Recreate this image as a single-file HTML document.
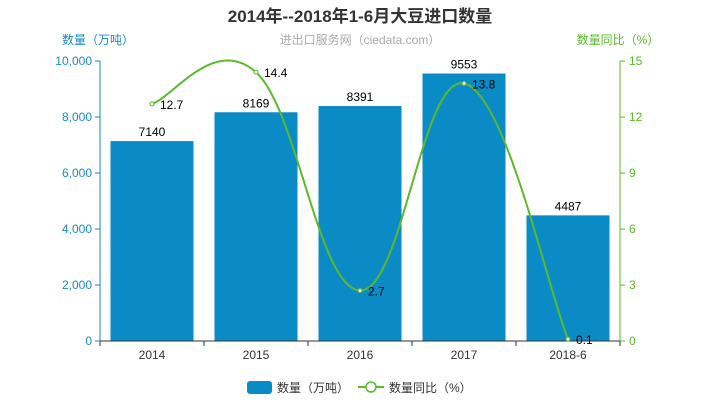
<!DOCTYPE html>
<html><head><meta charset="utf-8"><style>
body{margin:0;background:#fff;width:720px;height:400px;overflow:hidden;font-family:"Liberation Sans","Noto Sans CJK SC",sans-serif}
</style></head><body>
<svg width="720" height="400" xmlns="http://www.w3.org/2000/svg" id="chart" font-family="Liberation Sans, Noto Sans CJK SC, sans-serif">
<text x="360" y="22" text-anchor="middle" font-size="17" font-weight="bold" fill="#333">2014年--2018年1-6月大豆进口数量</text>
<text x="360" y="44" text-anchor="middle" font-size="12" fill="#aaa">进出口服务网（ciedata.com）</text>
<text x="98" y="44" text-anchor="middle" font-size="12" fill="#1a8bc6">数量（万吨）</text>
<text x="618" y="44" text-anchor="middle" font-size="12" fill="#5cb82c">数量同比（%）</text>
<g id="plot"></g>
<g>
<rect x="247" y="381" width="25" height="13" rx="3" fill="#0a8bc6"/>
<text x="277" y="392" font-size="12" fill="#333">数量（万吨）</text>
<line x1="358" y1="387" x2="384" y2="387" stroke="#5cb82c" stroke-width="2"/>
<circle cx="371" cy="387" r="5" fill="#fff" stroke="#5cb82c" stroke-width="1.5"/>
<text x="389" y="392" font-size="12" fill="#333">数量同比（%）</text>
</g>
</svg>
<script>
const categories=["2014","2015","2016","2017","2018-6"];
const volumes=[7140,8169,8391,9553,4487];
const yoy=[12.7,14.4,2.7,13.8,0.1];
const leftTicks=[0,2000,4000,6000,8000,10000];
const rightTicks=[0,3,6,9,12,15];
const NS="http://www.w3.org/2000/svg";
const g=document.getElementById('plot');
const X0=100,X1=620,Y0=341,Y1=61,band=(X1-X0)/categories.length;
const yL=v=>Y0-v/10000*(Y0-Y1), yR=v=>Y0-v/15*(Y0-Y1), xc=i=>X0+band*(i+0.5);
function mk(t,a){const e=document.createElementNS(NS,t);for(const k in a)e.setAttribute(k,a[k]);g.appendChild(e);return e;}
function txt(x,y,s,a){const e=mk('text',Object.assign({x:x,y:y,'font-size':12},a));e.textContent=s;return e;}
volumes.forEach((v,i)=>{
 const r=mk('rect',{x:xc(i)-41.5,y:yL(v),width:83,height:Y0-yL(v),fill:'#0a8bc6'});
 
 
 const t=txt(xc(i),yL(v)-5,String(v),{'text-anchor':'middle',fill:'#000'});
 
 
});
mk('line',{x1:X0,y1:Y1,x2:X0,y2:Y0,stroke:'#1a8bc6'});
mk('line',{x1:X1,y1:Y1,x2:X1,y2:Y0,stroke:'#5cb82c'});
mk('line',{x1:X0,y1:Y0,x2:X1,y2:Y0,stroke:'#333'});
categories.forEach((c,i)=>{
 mk('line',{x1:X0+band*i,y1:Y0,x2:X0+band*i,y2:Y0+5,stroke:'#333'});
 const t=txt(xc(i),Y0+18,c,{'text-anchor':'middle',fill:'#333'});
 
 
});
mk('line',{x1:X1,y1:Y0,x2:X1,y2:Y0+5,stroke:'#333'});
leftTicks.forEach(v=>{
 mk('line',{x1:X0-5,y1:yL(v),x2:X0,y2:yL(v),stroke:'#1a8bc6'});
 const t=txt(X0-8,yL(v)+4,v.toLocaleString('en-US'),{'text-anchor':'end',fill:'#1a8bc6'});
 
 
});
rightTicks.forEach(v=>{
 mk('line',{x1:X1,y1:yR(v),x2:X1+5,y2:yR(v),stroke:'#5cb82c'});
 const t=txt(X1+9,yR(v)+4,String(v),{fill:'#5cb82c'});
 
 
});
const pts=yoy.map((v,i)=>[xc(i),yR(v)]);
let d='M'+pts[0][0]+','+pts[0][1];
for(let i=0;i<pts.length-1;i++){
 const p0=pts[Math.max(i-1,0)],p1=pts[i],p2=pts[i+1],p3=pts[Math.min(i+2,pts.length-1)],k=0.2;
 d+=` C${p1[0]+(p2[0]-p0[0])*k},${p1[1]+(p2[1]-p0[1])*k} ${p2[0]-(p3[0]-p1[0])*k},${p2[1]-(p3[1]-p1[1])*k} ${p2[0]},${p2[1]}`;
}
const line=mk('path',{d:d,fill:'none',stroke:'#5cb82c','stroke-width':2});


pts.forEach((p,i)=>{
 const c=mk('circle',{cx:p[0],cy:p[1],r:2,fill:'#fff',stroke:'#5cb82c'});
 
 
 const t=txt(p[0]+8,p[1]+5,String(yoy[i]),{fill:'#000'});
 
 
});
</script>
</body></html>
